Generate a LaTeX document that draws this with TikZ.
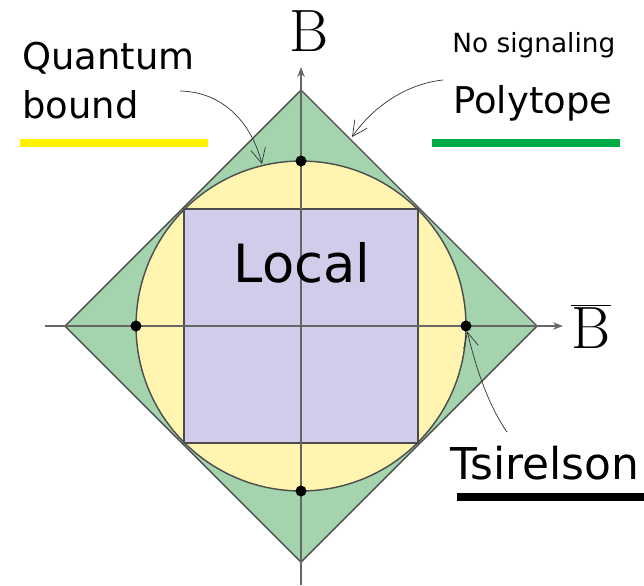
\documentclass[tikz,border=0pt]{standalone}
\usepackage{fontspec}
\setsansfont{DejaVu Sans}
\usetikzlibrary{arrows.meta}

\definecolor{nsgreen}{RGB}{163,212,174}
\definecolor{qyellow}{RGB}{255,245,176}
\definecolor{localviolet}{RGB}{208,204,234}
\definecolor{bargreen}{RGB}{0,170,68}

\begin{document}
\begin{tikzpicture}[
    x=0.02cm, y=-0.02cm,
    hand/.style={font=\sffamily\fontsize{21}{26}\selectfont, inner sep=0pt},
    axis_label/.style={font=\fontsize{34}{38}\selectfont, inner sep=0pt},
    region/.style={draw=black!70, thick},
    axis/.style={-{Stealth[length=2mm]}, black!60, thick},
    pointer/.style={-{Straight Barb[length=3mm, width=3mm]}, thin, black!80},
    point/.style={circle, fill=black, inner sep=0pt, minimum size=2.2mm},
    bar/.style={line width=0.17cm}
]
    \useasboundingbox (0,0) rectangle (644,585);

    % regions
    \draw[region, fill=nsgreen] (301,90) -- (537,326) -- (301,562) -- (65,326) -- cycle;
    \draw[region, fill=qyellow] (301,326) circle [radius=3.3cm];
    \draw[region, fill=localviolet] (184,209) rectangle (418,443);

    % axes
    \coordinate (xl) at (45,326);
    \coordinate (xr) at (563,326);
    \coordinate (yb) at (301,585);
    \coordinate (yt) at (301,67);
    \draw[axis] (xl) -- (xr);
    \draw[axis] (yb) -- (yt);

    \node[axis_label] (B) at (309,31) {B};
    \node[axis_label] (Bbar) at (591,326) {$\overline{\mathrm{B}}$};

    % Tsirelson points
    \node[point] (pt) at (301,161) {};
    \node[point] (pb) at (301,491) {};
    \node[point] (pl) at (136,326) {};
    \node[point] (pr) at (466,326) {};

    \node[hand, font=\sffamily\fontsize{30}{34}\selectfont] (local) at (302,263) {Local};

    % labels
    \node[hand, anchor=north west, align=left] (qlabel) at (22,42) {Quantum\\[2pt]bound};
    \node[hand, font=\sffamily\fontsize{15}{18}\selectfont, anchor=west] (nslabel1) at (452,45) {No signaling};
    \node[hand, anchor=west] (nslabel2) at (453,103) {Polytope};
    \node[hand, font=\sffamily\fontsize{25}{30}\selectfont] (tlabel) at (545,463) {Tsirelson};

    % underlines
    \draw[bar, yellow] (20,143) -- (208,143);
    \draw[bar, bargreen] (432,143) -- (620,143);
    \draw[bar, black] (457,497) -- (644,497);

    % pointers
    \coordinate (qa) at (180,91);
    \coordinate (qb) at (262,164);
    \coordinate (na) at (443,80);
    \coordinate (nb) at (352,137);
    \coordinate (ta) at (507,432);
    \draw[pointer] (qa) .. controls (225,92) and (252,125) .. (qb);
    \draw[pointer] (na) .. controls (405,84) and (372,108) .. (nb);
    \draw[pointer] (ta) .. controls (486,402) and (474,360) .. (pr);
\end{tikzpicture}
\end{document}
